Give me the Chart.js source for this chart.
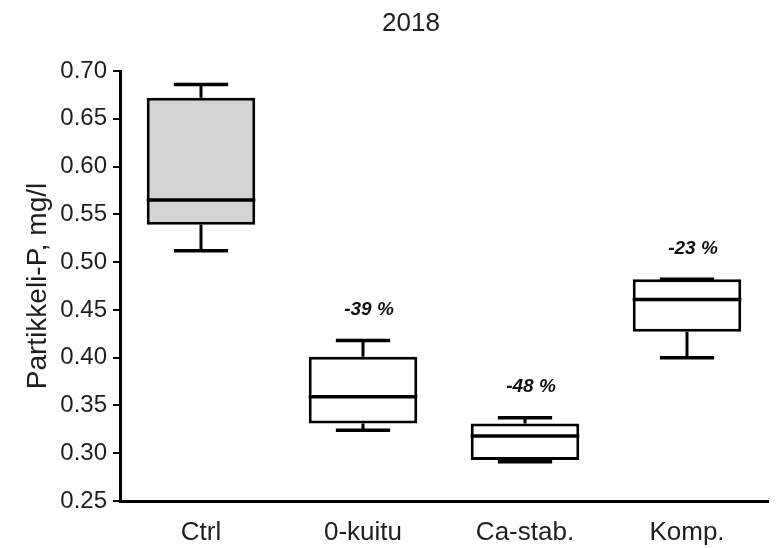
<!DOCTYPE html>
<html>
<head>
<meta charset="utf-8">
<script src="https://cdn.jsdelivr.net/npm/chart.js@4"></script>
<style>
  html, body { margin: 0; padding: 0; background: #fff; }
  #wrap { width: 780px; height: 548px; }
</style>
</head>
<body>
<div id="wrap"><canvas id="boxChart" width="780" height="548"></canvas></div>
<script>
// Ryhmät ja laatikkokuvion tunnusluvut (mg/l)
const groups = ['Ctrl', '0-kuitu', 'Ca-stab.', 'Komp.'];
const whiskerMin = [0.512, 0.324, 0.291, 0.400];
const quart1 = [0.539, 0.331, 0.293, 0.427];
const medians = [0.565, 0.359, 0.318, 0.461];
const quart3 = [0.672, 0.401, 0.331, 0.482];
const whiskerMax = [0.686, 0.418, 0.337, 0.482];
const changeLabels = ['', '-39 %', '-48 %', '-23 %'];
const yTicks = [0.25, 0.30, 0.35, 0.40, 0.45, 0.50, 0.55, 0.60, 0.65, 0.70];
const chartTitle = '2018';

const boxFill = ['#d4d4d4', '#ffffff', '#ffffff', '#ffffff'];
const fontFamily = '"Liberation Sans", Arial, sans-serif';
const textColor = '#1e1e1e';

// viikset, mediaani, muutosprosentit ja otsikko piirretään laatikoiden päälle
const boxPlotExtras = {
    id: 'boxPlotExtras',
    afterDatasetsDraw(chart) {
        const ctx = chart.ctx;
        const y = chart.scales.y;
        const bars = chart.getDatasetMeta(0).data;
        ctx.save();
        ctx.strokeStyle = '#000';
        ctx.lineCap = 'butt';
        bars.forEach((bar, i) => {
            const half = bar.width / 2;
            const cap = bar.width / 4;
            const x = bar.x;
            const yMin = y.getPixelForValue(whiskerMin[i]);
            const yMax = y.getPixelForValue(whiskerMax[i]);
            const yQ1 = y.getPixelForValue(quart1[i]);
            const yQ3 = y.getPixelForValue(quart3[i]);
            const yMed = y.getPixelForValue(medians[i]);

            ctx.lineWidth = 3;
            ctx.beginPath();
            ctx.moveTo(x, yQ3); ctx.lineTo(x, yMax);
            ctx.moveTo(x, yQ1); ctx.lineTo(x, yMin);
            ctx.stroke();

            ctx.lineWidth = 3.5;
            ctx.beginPath();
            ctx.moveTo(x - cap, yMax); ctx.lineTo(x + cap, yMax);
            ctx.moveTo(x - cap, yMin); ctx.lineTo(x + cap, yMin);
            ctx.moveTo(x - half, yMed); ctx.lineTo(x + half, yMed);
            ctx.stroke();

            if (changeLabels[i]) {
                ctx.fillStyle = '#111';
                ctx.font = 'italic bold 19px ' + fontFamily;
                ctx.textAlign = 'center';
                ctx.textBaseline = 'middle';
                ctx.fillText(changeLabels[i], x + 6, yMax - 31);
            }
        });

        // otsikko keskitetään akselialueen ja asteikon numeroiden päälle
        const area = chart.chartArea;
        ctx.fillStyle = textColor;
        ctx.font = '26px ' + fontFamily;
        ctx.textAlign = 'center';
        ctx.textBaseline = 'middle';
        ctx.fillText(chartTitle, (area.left - 66 + area.right) / 2, 24);
        ctx.restore();
    }
};

window.onload = function() {
    window.boxChart = new Chart(document.getElementById('boxChart'), {
        type: 'bar',
        data: {
            labels: groups,
            datasets: [{
                data: groups.map((g, i) => [quart1[i], quart3[i]]),
                backgroundColor: boxFill,
                borderColor: '#000',
                borderWidth: 3,
                borderSkipped: false,
                barPercentage: 0.67,
                categoryPercentage: 1.0
            }]
        },
        options: {
            responsive: false,
            animation: false,
            layout: { padding: { left: 0, right: 12, top: 71, bottom: 0 } },
            plugins: {
                legend: { display: false },
                tooltip: { enabled: false },
                title: { display: false }
            },
            scales: {
                x: {
                    grid: { display: false },
                    border: { display: true, color: '#000', width: 3 },
                    afterFit(scale) { scale.height = 47; },
                    ticks: {
                        color: textColor,
                        padding: 8,
                        font: { family: fontFamily, size: 26 }
                    }
                },
                y: {
                    min: 0.25,
                    max: 0.70,
                    afterBuildTicks(axis) {
                        axis.ticks = yTicks.map(v => ({ value: v }));
                    },
                    afterFit(scale) { scale.width = 120; },
                    grid: {
                        drawOnChartArea: false,
                        drawTicks: true,
                        tickLength: 7,
                        color: '#000',
                        lineWidth: 2
                    },
                    border: { display: true, color: '#000', width: 3 },
                    title: {
                        display: true,
                        text: 'Partikkeli-P, mg/l',
                        color: textColor,
                        font: { family: fontFamily, size: 28 },
                        padding: { top: 21, bottom: 0 }
                    },
                    ticks: {
                        color: textColor,
                        padding: 6,
                        font: { family: fontFamily, size: 24 },
                        callback: v => v.toFixed(2)
                    }
                }
            }
        },
        plugins: [boxPlotExtras]
    });
};
</script>
</body>
</html>
